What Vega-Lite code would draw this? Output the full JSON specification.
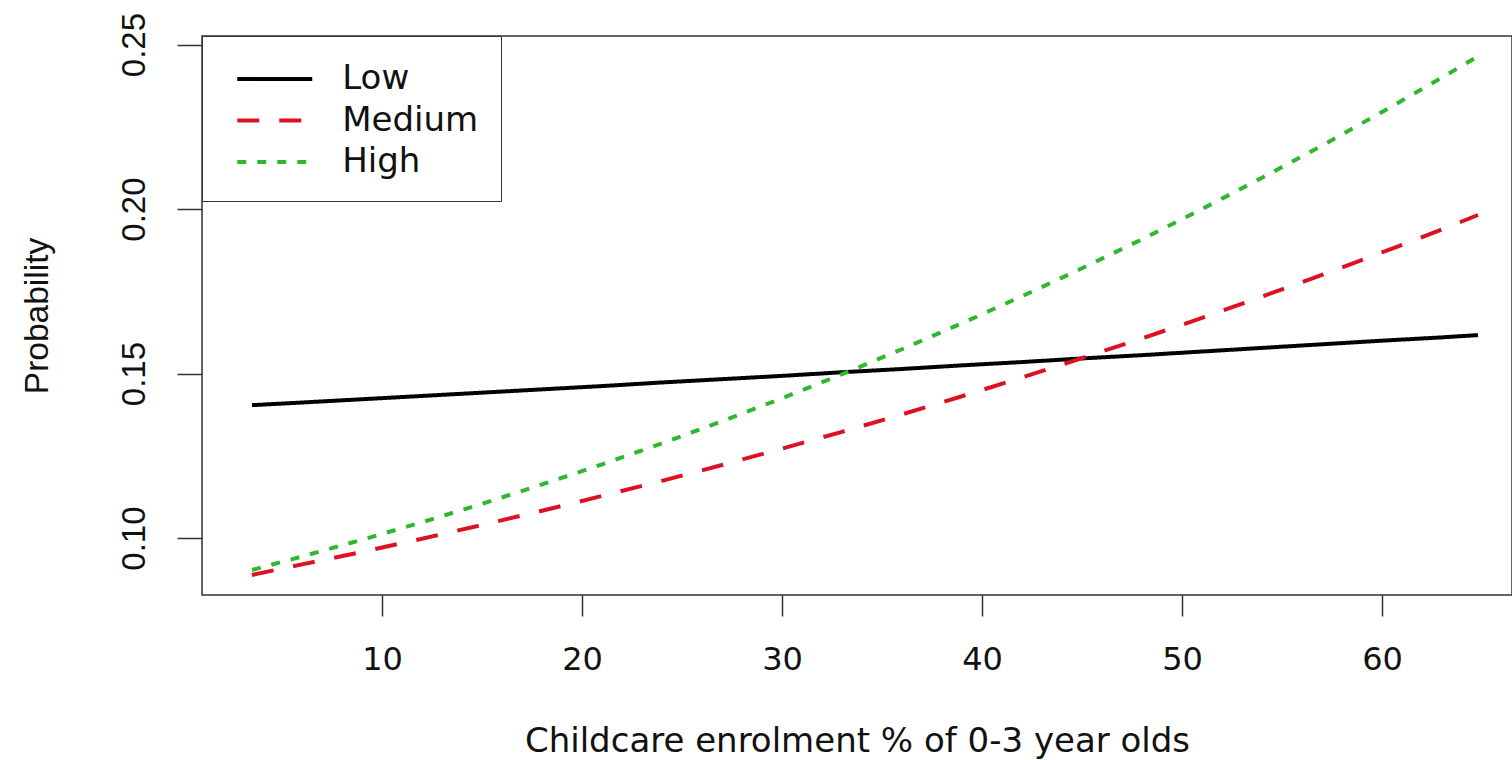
{
  "$schema": "https://vega.github.io/schema/vega-lite/v6.json",
  "width": 1310,
  "height": 559,
  "autosize": {"type": "none"},
  "padding": {"left": 202, "top": 36, "right": 0, "bottom": 165},
  "background": "white",
  "config": {
    "view": {"stroke": "#333333", "strokeWidth": 1.5},
    "axis": {"grid": false, "domain": false, "tickColor": "#333333", "tickWidth": 1.5, "labelColor": "#111111", "titleColor": "#111111", "titleFontWeight": "normal"}
  },
  "data": {
    "values": [
      {"x": 3.5, "p": 0.1404, "g": "Low"}, {"x": 6, "p": 0.1412, "g": "Low"}, {"x": 9, "p": 0.1422, "g": "Low"}, {"x": 12, "p": 0.1432, "g": "Low"}, {"x": 15, "p": 0.1442, "g": "Low"}, {"x": 18, "p": 0.1452, "g": "Low"}, {"x": 21, "p": 0.1462, "g": "Low"}, {"x": 24, "p": 0.1473, "g": "Low"}, {"x": 27, "p": 0.1483, "g": "Low"}, {"x": 30, "p": 0.1493, "g": "Low"}, {"x": 33, "p": 0.1504, "g": "Low"}, {"x": 36, "p": 0.1514, "g": "Low"}, {"x": 39, "p": 0.1525, "g": "Low"}, {"x": 42, "p": 0.1535, "g": "Low"}, {"x": 45, "p": 0.1546, "g": "Low"}, {"x": 48, "p": 0.1556, "g": "Low"}, {"x": 51, "p": 0.1567, "g": "Low"}, {"x": 54, "p": 0.1578, "g": "Low"}, {"x": 57, "p": 0.1589, "g": "Low"}, {"x": 60, "p": 0.1600, "g": "Low"}, {"x": 63, "p": 0.1610, "g": "Low"}, {"x": 64.8, "p": 0.1617, "g": "Low"},
      {"x": 3.5, "p": 0.0888, "g": "Medium"}, {"x": 6, "p": 0.0920, "g": "Medium"}, {"x": 9, "p": 0.0958, "g": "Medium"}, {"x": 12, "p": 0.0998, "g": "Medium"}, {"x": 15, "p": 0.1040, "g": "Medium"}, {"x": 18, "p": 0.1083, "g": "Medium"}, {"x": 21, "p": 0.1128, "g": "Medium"}, {"x": 24, "p": 0.1174, "g": "Medium"}, {"x": 27, "p": 0.1222, "g": "Medium"}, {"x": 30, "p": 0.1272, "g": "Medium"}, {"x": 33, "p": 0.1323, "g": "Medium"}, {"x": 36, "p": 0.1376, "g": "Medium"}, {"x": 39, "p": 0.1431, "g": "Medium"}, {"x": 42, "p": 0.1488, "g": "Medium"}, {"x": 45, "p": 0.1547, "g": "Medium"}, {"x": 48, "p": 0.1607, "g": "Medium"}, {"x": 51, "p": 0.1669, "g": "Medium"}, {"x": 54, "p": 0.1734, "g": "Medium"}, {"x": 57, "p": 0.1800, "g": "Medium"}, {"x": 60, "p": 0.1868, "g": "Medium"}, {"x": 63, "p": 0.1938, "g": "Medium"}, {"x": 64.8, "p": 0.1982, "g": "Medium"},
      {"x": 3.5, "p": 0.0903, "g": "High"}, {"x": 6, "p": 0.0944, "g": "High"}, {"x": 9, "p": 0.0995, "g": "High"}, {"x": 12, "p": 0.1048, "g": "High"}, {"x": 15, "p": 0.1104, "g": "High"}, {"x": 18, "p": 0.1163, "g": "High"}, {"x": 21, "p": 0.1224, "g": "High"}, {"x": 24, "p": 0.1288, "g": "High"}, {"x": 27, "p": 0.1355, "g": "High"}, {"x": 30, "p": 0.1425, "g": "High"}, {"x": 33, "p": 0.1498, "g": "High"}, {"x": 36, "p": 0.1574, "g": "High"}, {"x": 39, "p": 0.1653, "g": "High"}, {"x": 42, "p": 0.1735, "g": "High"}, {"x": 45, "p": 0.1820, "g": "High"}, {"x": 48, "p": 0.1908, "g": "High"}, {"x": 51, "p": 0.2000, "g": "High"}, {"x": 54, "p": 0.2095, "g": "High"}, {"x": 57, "p": 0.2193, "g": "High"}, {"x": 60, "p": 0.2295, "g": "High"}, {"x": 63, "p": 0.2400, "g": "High"}, {"x": 64.8, "p": 0.2464, "g": "High"}
    ]
  },
  "mark": {"type": "line", "strokeWidth": 4, "strokeCap": "butt"},
  "encoding": {
    "x": {
      "field": "x", "type": "quantitative",
      "scale": {"domain": [1, 66.5], "nice": false, "zero": false},
      "axis": {"values": [10, 20, 30, 40, 50, 60], "tickSize": 21, "labelFont": "DejaVu Sans", "labelFontSize": 32, "labelPadding": 28, "labelBaseline": "top", "title": "Childcare enrolment % of 0-3 year olds", "titleFont": "DejaVu Sans", "titleFontSize": 34, "titlePadding": 49}
    },
    "y": {
      "field": "p", "type": "quantitative",
      "scale": {"domain": [0.0827, 0.2526], "nice": false, "zero": false},
      "axis": {"values": [0.10, 0.15, 0.20, 0.25], "format": ".2f", "tickSize": 25, "labelAngle": -90, "labelAlign": "center", "labelBaseline": "alphabetic", "labelFont": "Liberation Sans", "labelFontSize": 33, "labelPadding": 33, "title": "Probability", "titleFont": "Liberation Sans", "titleFontSize": 33.5, "titlePadding": 64}
    },
    "color": {
      "field": "g", "type": "nominal",
      "scale": {"domain": ["Low", "Medium", "High"], "range": ["#000000", "#dd1122", "#2eb82e"]},
      "legend": {"title": null, "orient": "top-left", "offset": 0, "strokeColor": "#333333", "fillColor": "white", "padding": 22, "symbolOffset": 29.75, "symbolType": "M-2,0H2", "symbolSize": 1406, "symbolStrokeWidth": 4, "labelFont": "DejaVu Sans", "labelFontSize": 34, "labelColor": "#111111", "labelOffset": 46.5, "rowPadding": 3.5}
    },
    "strokeDash": {
      "field": "g", "type": "nominal",
      "scale": {"domain": ["Low", "Medium", "High"], "range": [[1, 0], [22, 20], [9, 11]]},
      "legend": {"title": null, "orient": "top-left", "offset": 0, "strokeColor": "#333333", "fillColor": "white", "padding": 22, "symbolOffset": 29.75, "symbolType": "M-2,0H2", "symbolSize": 1406, "symbolStrokeWidth": 4, "labelFont": "DejaVu Sans", "labelFontSize": 34, "labelColor": "#111111", "labelOffset": 46.5, "rowPadding": 3.5}
    }
  }
}
